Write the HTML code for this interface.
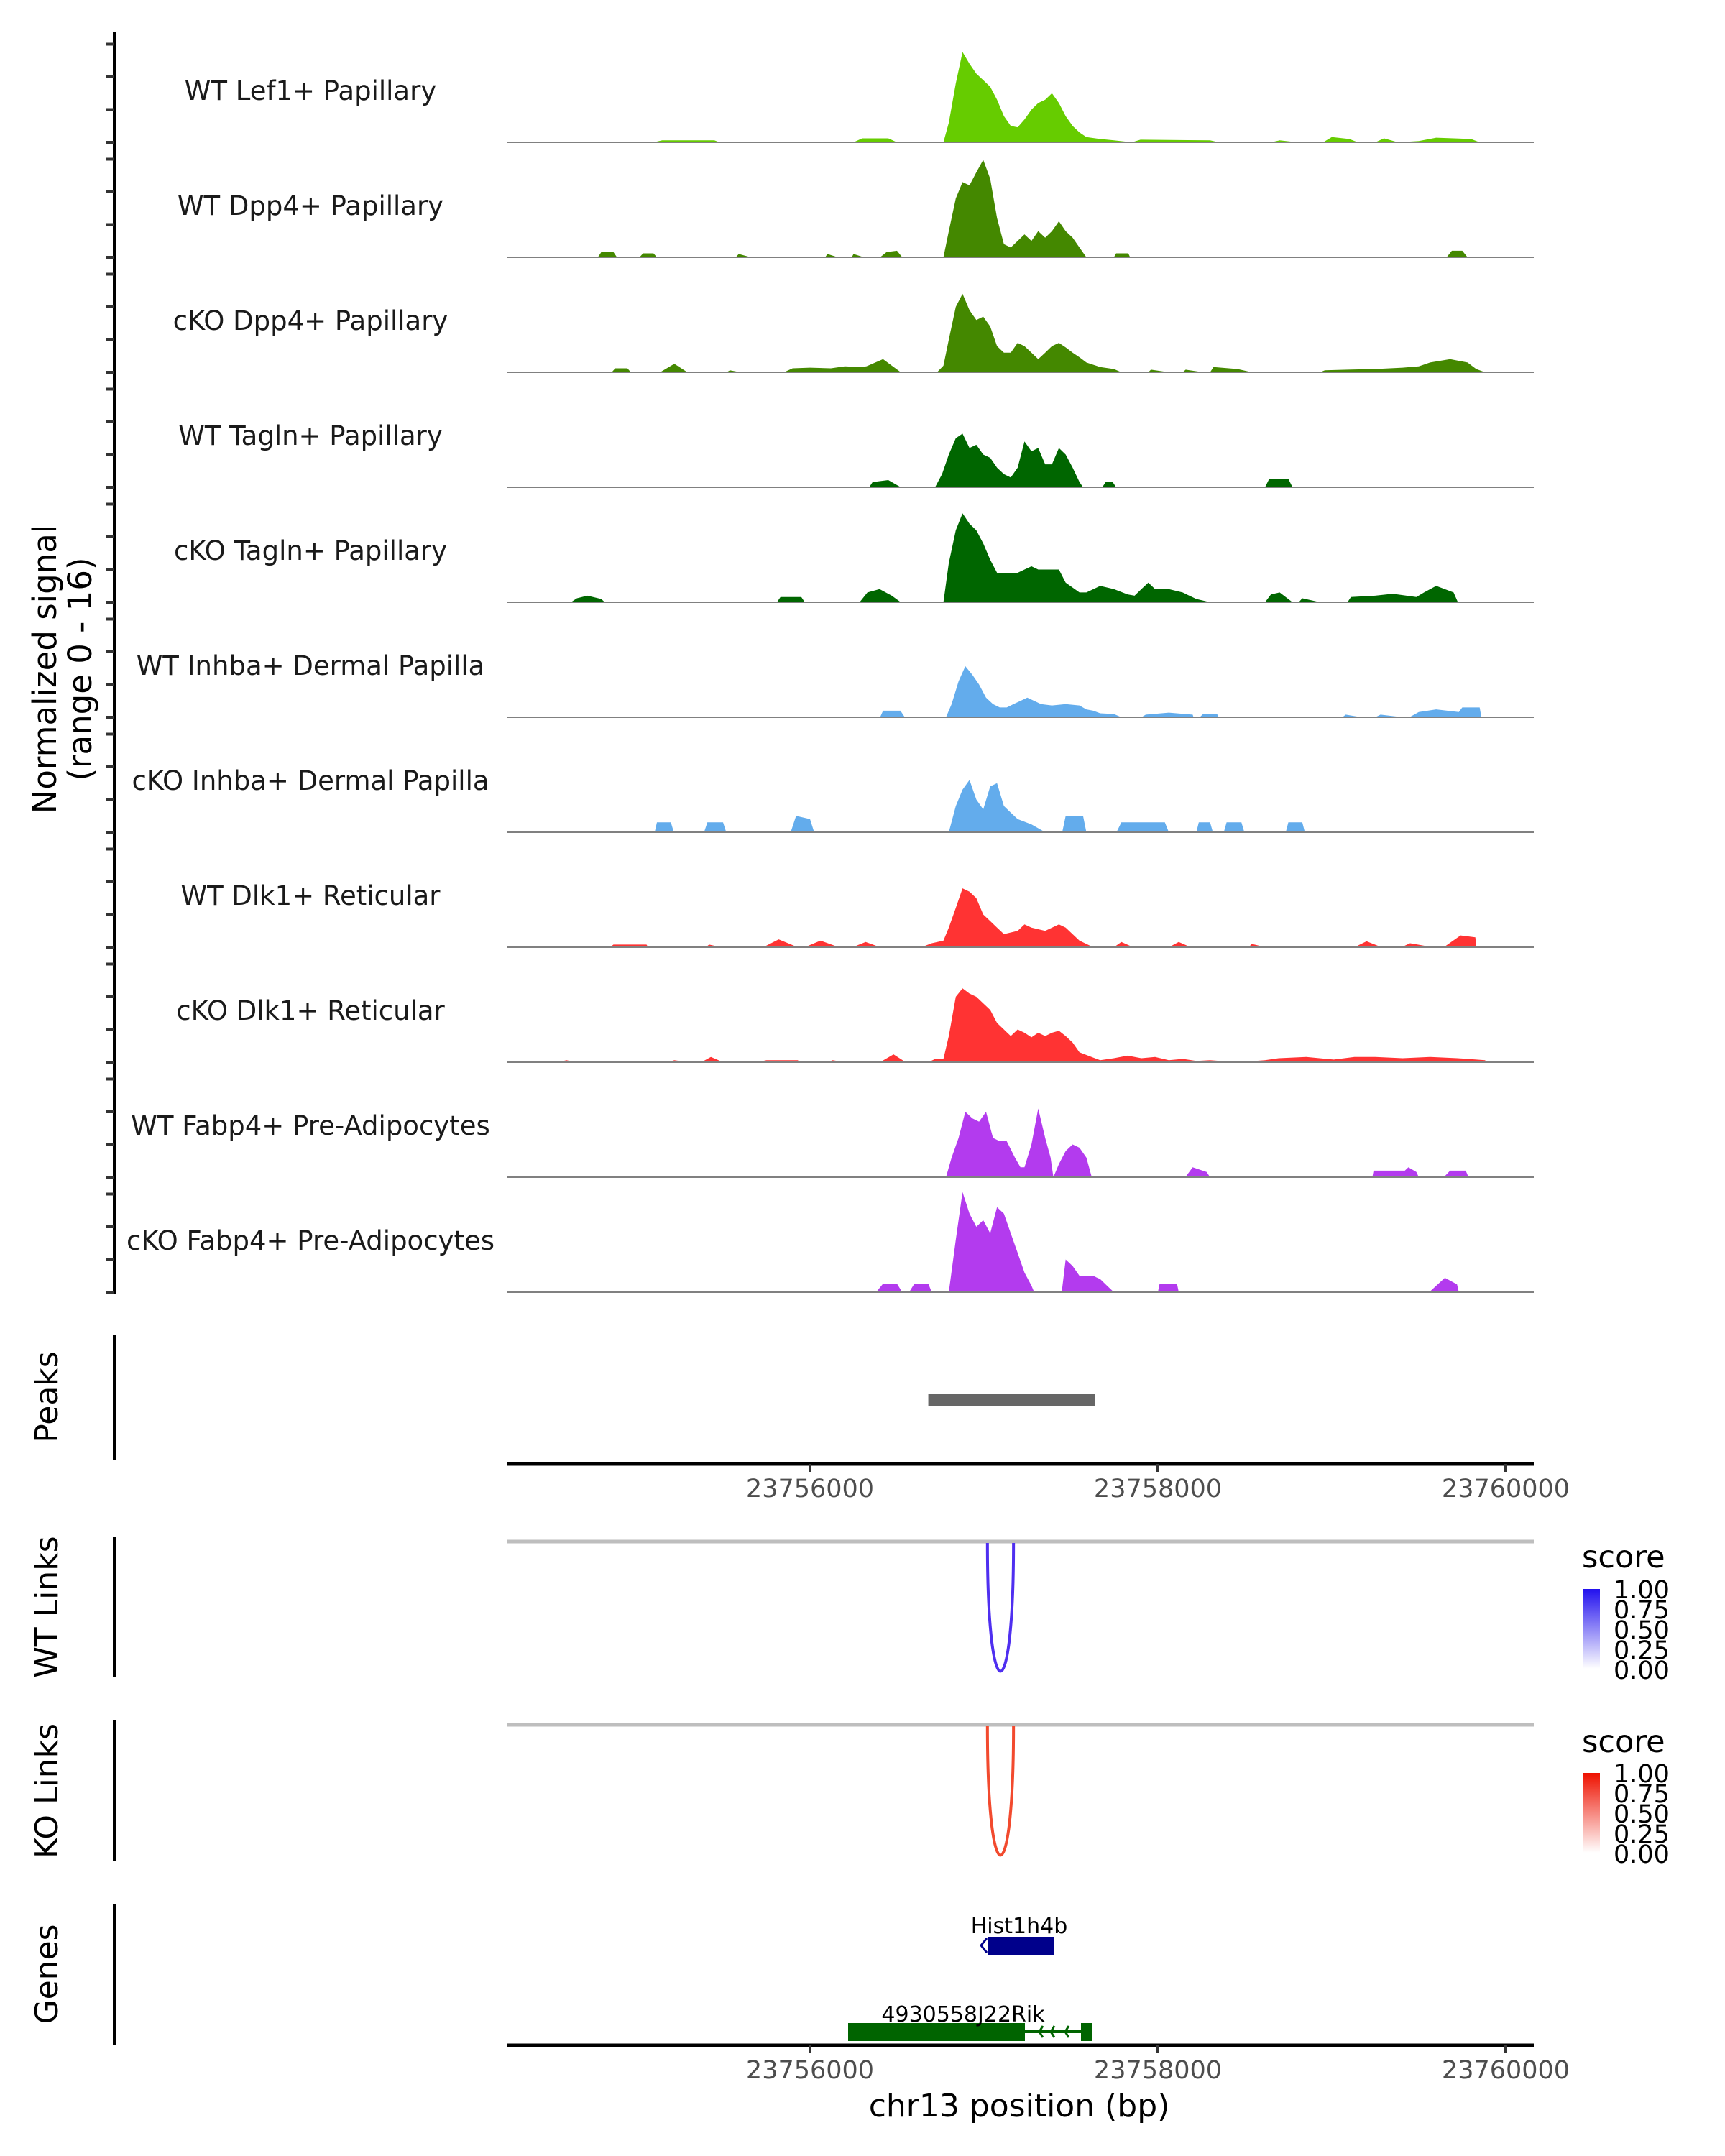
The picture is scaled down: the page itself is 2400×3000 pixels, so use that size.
<!DOCTYPE html>
<html><head><meta charset="utf-8"><style>
html,body{margin:0;padding:0;background:#fff;}
svg{display:block;font-family:"DejaVu Sans","Liberation Sans",sans-serif;}
</style></head><body>
<svg id="chart" width="2400" height="3000" viewBox="0 0 2400 3000" xmlns="http://www.w3.org/2000/svg">
<rect width="2400" height="3000" fill="#fff"/>
<g id="tracks"></g>
<line x1="159" y1="45" x2="159" y2="1800" stroke="#000" stroke-width="4"/>
<g id="yticks"></g>
<text transform="translate(78,931) rotate(-90)" text-anchor="middle" font-size="45" fill="#000">Normalized signal</text>
<text transform="translate(127,931) rotate(-90)" text-anchor="middle" font-size="45" fill="#000">(range 0 - 16)</text>

<line x1="159" y1="1858" x2="159" y2="2032" stroke="#000" stroke-width="4"/>
<text transform="translate(80,1944) rotate(-90)" text-anchor="middle" font-size="44">Peaks</text>
<g id="peaks"></g>
<g id="xaxis1"></g>

<line x1="159" y1="2138" x2="159" y2="2333" stroke="#000" stroke-width="4"/>
<text transform="translate(80,2236) rotate(-90)" text-anchor="middle" font-size="44">WT Links</text>
<line x1="706" y1="2145" x2="2134" y2="2145" stroke="#bebebe" stroke-width="5"/>
<g id="wtlinks"></g>

<line x1="159" y1="2393" x2="159" y2="2590" stroke="#000" stroke-width="4"/>
<text transform="translate(80,2492) rotate(-90)" text-anchor="middle" font-size="44">KO Links</text>
<line x1="706" y1="2400" x2="2134" y2="2400" stroke="#bebebe" stroke-width="5"/>
<g id="kolinks"></g>

<defs>
<linearGradient id="gblue" x1="0" y1="1" x2="0" y2="0"><stop offset="0" stop-color="#ffffff"/><stop offset="1" stop-color="#2211ee"/></linearGradient>
<linearGradient id="gred" x1="0" y1="1" x2="0" y2="0"><stop offset="0" stop-color="#ffffff"/><stop offset="1" stop-color="#ee1100"/></linearGradient>
</defs>
<g>
<text x="2201" y="2181" font-size="43">score</text>
<rect x="2203" y="2211" width="23" height="111" fill="url(#gblue)"/>
<g font-size="35" fill="#000"><text x="2245" y="2224">1.00</text><text x="2245" y="2252">0.75</text><text x="2245" y="2280">0.50</text><text x="2245" y="2308">0.25</text><text x="2245" y="2336">0.00</text></g>
</g>
<g>
<text x="2201" y="2438" font-size="43">score</text>
<rect x="2203" y="2467" width="23" height="111" fill="url(#gred)"/>
<g font-size="35" fill="#000"><text x="2245" y="2480">1.00</text><text x="2245" y="2508">0.75</text><text x="2245" y="2536">0.50</text><text x="2245" y="2564">0.25</text><text x="2245" y="2592">0.00</text></g>
</g>

<line x1="159" y1="2649" x2="159" y2="2846" stroke="#000" stroke-width="4"/>
<text transform="translate(80,2747) rotate(-90)" text-anchor="middle" font-size="44">Genes</text>
<g id="genes"></g>
<g id="xaxis2"></g>
<text x="1418" y="2945" text-anchor="middle" font-size="44">chr13 position (bp)</text>
</svg>
<script>
const trackNames = ["WT Lef1+ Papillary","WT Dpp4+ Papillary","cKO Dpp4+ Papillary","WT Tagln+ Papillary","cKO Tagln+ Papillary","WT Inhba+ Dermal Papilla","cKO Inhba+ Dermal Papilla","WT Dlk1+ Reticular","cKO Dlk1+ Reticular","WT Fabp4+ Pre-Adipocytes","cKO Fabp4+ Pre-Adipocytes"];
const trackColors = ["#66cc00","#448800","#448800","#006600","#006600","#63acec","#63acec","#ff3333","#ff3333","#b33bee","#b33bee"];
const xTicks = [23756000,23758000,23760000];
const xTickLabels = ["23756000","23758000","23760000"];
const yTicks = [0,5,10,15];
const peakRegions = [[23756680,23757639]];
const wtLinks = [[23757020,23757170,1.0]];
const koLinks = [[23757020,23757170,1.0]];

const sigLef1WT = [[23755100,0],[23755150,0.3],[23755450,0.3],[23755480,0],[23756250,0],[23756300,0.6],[23756450,0.6],[23756500,0],[23756767,0],[23756798,3],[23756838,9],[23756877,13.8],[23756917,12],[23756956,10.5],[23756996,9.5],[23757036,8.5],[23757075,6.5],[23757115,4],[23757154,2.5],[23757194,2.3],[23757233,3.5],[23757273,5],[23757312,6],[23757352,6.5],[23757391,7.5],[23757431,6],[23757470,4],[23757510,2.5],[23757549,1.5],[23757589,0.8],[23757668,0.5],[23757747,0.3],[23757850,0],[23757900,0.4],[23758300,0.3],[23758350,0],[23758650,0],[23758700,0.3],[23758800,0],[23758950,0],[23759000,0.8],[23759100,0.5],[23759150,0],[23759250,0],[23759300,0.6],[23759380,0],[23759500,0.2],[23759600,0.7],[23759800,0.5],[23759850,0]];
const sigDpp4WT = [[23754780,0],[23754800,0.8],[23754870,0.8],[23754890,0],[23755020,0],[23755040,0.6],[23755100,0.6],[23755120,0],[23755573,0],[23755590,0.5],[23755660,0],[23756087,0],[23756100,0.5],[23756160,0],[23756240,0],[23756250,0.5],[23756310,0],[23756403,0],[23756440,0.8],[23756500,1.0],[23756530,0],[23756767,0],[23756798,4],[23756838,9],[23756877,11.5],[23756917,11],[23756956,13],[23756996,14.9],[23757036,12],[23757075,6],[23757115,2],[23757154,1.5],[23757194,2.5],[23757233,3.5],[23757273,2.5],[23757312,4],[23757352,3],[23757391,4],[23757431,5.5],[23757470,4],[23757510,3],[23757549,1.5],[23757589,0],[23757747,0],[23757760,0.6],[23757830,0.6],[23757840,0],[23759660,0],[23759690,1.0],[23759750,1.0],[23759780,0]];
const sigDpp4KO = [[23754860,0],[23754880,0.6],[23754950,0.6],[23754970,0],[23755138,0],[23755220,1.3],[23755295,0],[23755520,0],[23755540,0.3],[23755600,0],[23755850,0],[23755900,0.6],[23756000,0.7],[23756120,0.6],[23756200,0.9],[23756290,0.8],[23756324,0.9],[23756420,2],[23756522,0],[23756730,0],[23756767,1],[23756798,5],[23756838,10],[23756877,12],[23756917,9.5],[23756956,8],[23756996,8.5],[23757036,7],[23757075,4],[23757115,3],[23757154,3],[23757194,4.5],[23757233,4],[23757273,3],[23757312,2],[23757352,3],[23757391,4],[23757431,4.5],[23757470,3.8],[23757510,3],[23757549,2.3],[23757589,1.5],[23757668,0.8],[23757747,0.5],[23757790,0],[23757945,0],[23757960,0.4],[23758063,0],[23758142,0],[23758160,0.4],[23758260,0],[23758300,0],[23758320,0.8],[23758458,0.5],[23758540,0],[23758932,0],[23758960,0.3],[23759090,0.4],[23759249,0.5],[23759407,0.7],[23759500,0.9],[23759565,1.5],[23759680,2],[23759780,1.5],[23759830,0.5],[23759881,0]];
const sigTaglnWT = [[23756340,0],[23756360,0.8],[23756450,1.1],[23756522,0],[23756719,0],[23756759,2],[23756798,5],[23756838,7.5],[23756877,8.2],[23756917,6],[23756956,6.5],[23756996,5],[23757036,4.5],[23757075,3],[23757115,2],[23757154,1.5],[23757194,3],[23757233,7],[23757273,5.5],[23757312,6],[23757352,3.5],[23757391,3.5],[23757431,6],[23757470,5],[23757510,3],[23757549,0.8],[23757570,0],[23757680,0],[23757700,0.8],[23757740,0.8],[23757760,0],[23758616,0],[23758640,1.3],[23758750,1.3],[23758774,0]];
const sigTaglnKO = [[23754625,0],[23754660,0.6],[23754720,1.0],[23754800,0.5],[23754820,0],[23755810,0],[23755830,0.8],[23755950,0.8],[23755970,0],[23756285,0],[23756330,1.5],[23756400,2],[23756470,1],[23756522,0],[23756767,0],[23756798,6],[23756838,11],[23756877,13.6],[23756917,12],[23756956,11],[23756996,9],[23757036,6.5],[23757075,4.5],[23757115,4.5],[23757194,4.5],[23757233,5],[23757273,5.5],[23757312,5],[23757352,5],[23757391,5],[23757431,5],[23757470,3],[23757549,1.5],[23757589,1.5],[23757668,2.5],[23757747,2],[23757826,1.2],[23757866,1],[23757905,2],[23757945,3],[23757984,2],[23758063,2],[23758142,1.5],[23758221,0.5],[23758300,0],[23758616,0],[23758650,1.2],[23758700,1.5],[23758774,0],[23758810,0],[23758830,0.6],[23758932,0],[23759090,0],[23759110,0.8],[23759249,1.0],[23759350,1.3],[23759486,0.8],[23759530,1.5],[23759600,2.5],[23759700,1.5],[23759725,0]];
const sigInhbaWT = [[23756403,0],[23756420,1.0],[23756520,1.0],[23756545,0],[23756782,0],[23756814,2],[23756854,5.5],[23756893,7.8],[23756933,6.5],[23756972,5],[23757012,3],[23757052,2],[23757091,1.5],[23757131,1.5],[23757170,2],[23757210,2.5],[23757249,3],[23757289,2.5],[23757328,2],[23757391,1.8],[23757470,2],[23757549,1.8],[23757589,1.2],[23757628,1],[23757668,0.6],[23757747,0.5],[23757790,0],[23757905,0],[23757930,0.4],[23758063,0.7],[23758200,0.4],[23758205,0],[23758240,0],[23758260,0.5],[23758340,0.5],[23758350,0],[23759060,0],[23759080,0.4],[23759170,0],[23759249,0],[23759280,0.4],[23759407,0],[23759446,0],[23759500,0.8],[23759600,1.2],[23759730,0.8],[23759750,1.5],[23759850,1.5],[23759860,0]];
const sigInhbaKO = [[23755107,0],[23755120,1.5],[23755200,1.5],[23755217,0],[23755391,0],[23755410,1.5],[23755500,1.5],[23755518,0],[23755889,0],[23755920,2.5],[23756000,2],[23756024,0],[23756798,0],[23756838,4],[23756877,6.5],[23756917,8],[23756956,5],[23756996,3.5],[23757036,7],[23757075,7.5],[23757115,4],[23757154,3],[23757194,2],[23757273,1.2],[23757352,0],[23757450,0],[23757470,2.5],[23757570,2.5],[23757589,0],[23757762,0],[23757790,1.5],[23758040,1.5],[23758063,0],[23758221,0],[23758235,1.5],[23758300,1.5],[23758316,0],[23758379,0],[23758395,1.5],[23758480,1.5],[23758497,0],[23758735,0],[23758750,1.5],[23758830,1.5],[23758845,0]];
const sigDlk1WT = [[23754850,0],[23754870,0.4],[23755060,0.4],[23755070,0],[23755400,0],[23755420,0.4],[23755490,0],[23755731,0],[23755820,1.2],[23755929,0],[23755970,0],[23756060,1.0],[23756166,0],[23756245,0],[23756320,0.8],[23756403,0],[23756640,0],[23756700,0.6],[23756767,1],[23756798,3],[23756838,6],[23756877,9],[23756917,8.5],[23756956,7.5],[23756996,5],[23757036,4],[23757075,3],[23757115,2],[23757194,2.5],[23757233,3.5],[23757273,3],[23757352,2.5],[23757431,3.5],[23757470,3],[23757549,1],[23757628,0],[23757747,0],[23757790,0.8],[23757858,0],[23758063,0],[23758120,0.8],[23758189,0],[23758521,0],[23758540,0.5],[23758620,0],[23759130,0],[23759200,0.9],[23759286,0],[23759400,0],[23759450,0.6],[23759580,0],[23759644,0],[23759740,1.8],[23759825,1.5],[23759830,0]];
const sigDlk1KO = [[23754550,0],[23754600,0.3],[23754650,0],[23755180,0],[23755220,0.3],[23755300,0],[23755375,0],[23755430,0.8],[23755500,0],[23755690,0],[23755750,0.3],[23755930,0.3],[23755940,0],[23756100,0],[23756130,0.3],[23756200,0],[23756403,0],[23756480,1.2],[23756550,0],[23756680,0],[23756720,0.5],[23756767,0.5],[23756798,4],[23756838,10],[23756877,11.3],[23756917,10.5],[23756956,10],[23756996,9],[23757036,8],[23757075,6],[23757115,5],[23757154,4],[23757194,5],[23757233,4.5],[23757273,3.8],[23757312,4.5],[23757352,4],[23757391,4.5],[23757431,4.8],[23757470,4],[23757510,3],[23757549,1.5],[23757628,0.7],[23757668,0.3],[23757747,0.6],[23757826,1],[23757905,0.6],[23757984,0.8],[23758063,0.3],[23758142,0.5],[23758221,0.2],[23758300,0.3],[23758458,0],[23758616,0.3],[23758695,0.6],[23758853,0.8],[23759011,0.4],[23759130,0.8],[23759249,0.8],[23759407,0.6],[23759565,0.8],[23759723,0.6],[23759881,0.3],[23759890,0]];
const sigFabp4WT = [[23756782,0],[23756814,3],[23756854,6],[23756893,10],[23756933,9],[23756972,8.5],[23757012,10],[23757052,6],[23757091,5.5],[23757131,5.5],[23757178,3],[23757210,1.5],[23757233,1.5],[23757273,5],[23757312,10.5],[23757352,6],[23757383,3],[23757399,0],[23757431,2],[23757470,4],[23757510,5],[23757549,4.5],[23757589,3],[23757620,0],[23758158,0],[23758200,1.5],[23758280,0.8],[23758300,0],[23759233,0],[23759240,1.0],[23759420,1.0],[23759440,1.5],[23759486,0.8],[23759500,0],[23759644,0],[23759680,1.0],[23759770,1.0],[23759786,0]];
const sigFabp4KO = [[23756380,0],[23756420,1.3],[23756500,1.3],[23756530,0],[23756570,0],[23756600,1.3],[23756680,1.3],[23756700,0],[23756798,0],[23756838,8],[23756877,15.3],[23756917,12],[23756956,10],[23756996,11],[23757036,9],[23757075,13],[23757115,12],[23757154,9],[23757194,6],[23757233,3],[23757273,1],[23757289,0],[23757447,0],[23757470,5],[23757510,4],[23757549,2.5],[23757589,2.5],[23757628,2.5],[23757668,2],[23757707,1],[23757747,0],[23758000,0],[23758010,1.3],[23758110,1.3],[23758120,0],[23759560,0],[23759650,2.2],[23759720,1.2],[23759730,0]];
const trackSignals = [sigLef1WT,sigDpp4WT,sigDpp4KO,sigTaglnWT,sigTaglnKO,sigInhbaWT,sigInhbaKO,sigDlk1WT,sigDlk1KO,sigFabp4WT,sigFabp4KO];

const NS='http://www.w3.org/2000/svg';
const X0=706, X1=2134;
function xScale(bp){return 1127+(bp-23756000)*0.242;}
function baseY(i){return 198+160*i;}
function yScale(i,v){return baseY(i)-Math.min(v,16)*9.1;}
function mk(tag,attrs,parent){const e=document.createElementNS(NS,tag);for(const k in attrs)e.setAttribute(k,attrs[k]);parent.appendChild(e);return e;}

const tg=document.getElementById('tracks');
const ytg=document.getElementById('yticks');
trackNames.forEach((name,i)=>{
  const g=mk('g',{},tg);
  
  
  const pts=trackSignals[i];
  let d='M'+xScale(pts[0][0]).toFixed(1)+','+baseY(i);
  pts.forEach(p=>{d+=' L'+xScale(p[0]).toFixed(1)+','+yScale(i,p[1]).toFixed(1);});
  d+=' L'+xScale(pts[pts.length-1][0]).toFixed(1)+','+baseY(i)+' Z';
  const a=mk('path',{d:d,fill:trackColors[i]},g);
  
  
  const bl=mk('line',{x1:X0,x2:X1,y1:baseY(i),y2:baseY(i),stroke:'#808080','stroke-width':2},g);
  
  
  const t=mk('text',{x:432,y:baseY(i)-59,'text-anchor':'middle','font-size':37,fill:'#1a1a1a'},g);
  t.textContent=name;
  
  
  yTicks.forEach(v=>{
    const tk=mk('line',{x1:147,x2:159,y1:yScale(i,v),y2:yScale(i,v),stroke:'#333','stroke-width':4},ytg);
    
    
  });
});

const pg=document.getElementById('peaks');
peakRegions.forEach(r=>{
  const p=mk('rect',{x:xScale(r[0]),y:1940,width:xScale(r[1])-xScale(r[0]),height:17,fill:'#666666'},pg);
  
  
});

function xAxis(id,y){
  const g=document.getElementById(id);
  const l=mk('line',{x1:X0,x2:X1,y1:y,y2:y,stroke:'#000','stroke-width':5},g);
  
  
  xTicks.forEach((t,k)=>{
    const tk=mk('line',{x1:xScale(t),x2:xScale(t),y1:y,y2:y+11,stroke:'#333','stroke-width':4},g);
    
    
    const tx=mk('text',{x:xScale(t),y:y+46,'text-anchor':'middle','font-size':35,fill:'#4d4d4d'},g);
    tx.textContent=xTickLabels[k];
    
    
  });
}
xAxis('xaxis1',2037);
xAxis('xaxis2',2846);

function drawLinks(id,links,top,bottom,color){
  const g=document.getElementById(id);
  links.forEach(l=>{
    const xa=xScale(l[0]),xb=xScale(l[1]);
    const depth=(bottom-top)*l[2];
    const d='M'+xa+','+top+' C'+xa+','+(top+depth*1.33)+' '+xb+','+(top+depth*1.33)+' '+xb+','+top;
    const p=mk('path',{d:d,fill:'none',stroke:color,'stroke-width':4},g);
    
    
  });
}
drawLinks('wtlinks',wtLinks,2147,2326,'#4f2ff0');
drawLinks('kolinks',koLinks,2402,2582,'#f24a2e');

const gg=document.getElementById('genes');
const geneA=mk('g',{},gg);


mk('rect',{x:1374,y:2695,width:92,height:25,fill:'#00008b'},geneA);
mk('path',{d:'M1373,2697 L1365,2707 L1373,2717',fill:'none',stroke:'#00008b','stroke-width':3},geneA);
const ta=mk('text',{x:1418,y:2690,'text-anchor':'middle','font-size':30},geneA);
ta.textContent='Hist1h4b';
const geneB=mk('g',{},gg);


mk('rect',{x:1180,y:2815,width:246,height:25,fill:'#006400'},geneB);
mk('line',{x1:1426,x2:1510,y1:2827,y2:2827,stroke:'#006400','stroke-width':4},geneB);
mk('rect',{x:1504,y:2815,width:16,height:25,fill:'#006400'},geneB);
[1446,1462,1482].forEach(x=>mk('path',{d:'M'+(x+5)+',2819 L'+x+',2827 L'+(x+5)+',2835',fill:'none',stroke:'#006400','stroke-width':3},geneB));
const tb=mk('text',{x:1340,y:2813,'text-anchor':'middle','font-size':30},geneB);
tb.textContent='4930558J22Rik';
</script>
</body></html>
